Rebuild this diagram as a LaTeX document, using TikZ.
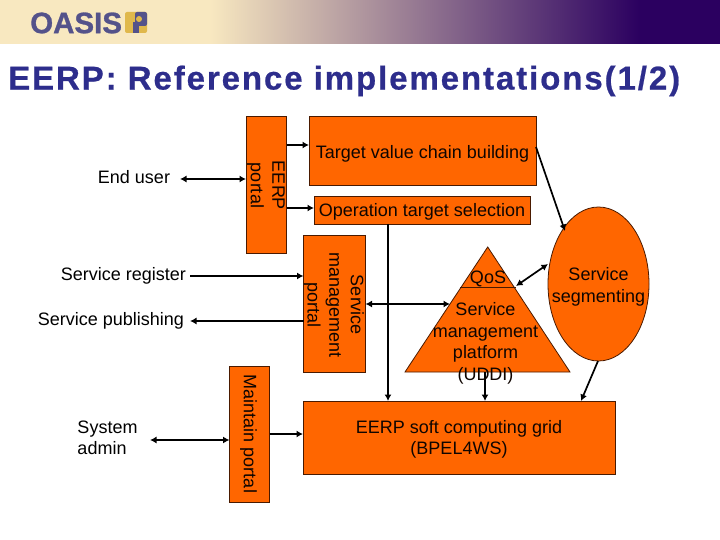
\documentclass[tikz,border=0pt]{standalone}
\usepackage{fontspec}
\setmainfont{Liberation Sans}
\usetikzlibrary{arrows.meta,shapes.geometric}
\definecolor{boxorange}{HTML}{FF6600}
\definecolor{edgedark}{HTML}{4A1A00}
\definecolor{cream}{HTML}{F8E8C0}
\definecolor{deep}{HTML}{2B0060}
\definecolor{titleblue}{HTML}{2D2D8C}
\definecolor{logoblue}{HTML}{54528A}
\definecolor{logogold}{HTML}{E0B84C}
\tikzset{
  x=1pt,y=-1pt,
  orbox/.style={draw=edgedark,fill=boxorange,line width=0.8pt},
  lbl/.style={font=\fontsize{18}{21}\selectfont,text=black,inner sep=0pt,align=center},
  inlbl/.style={font=\fontsize{18}{21.6}\selectfont,text=black!80!edgedark,inner sep=0pt,align=center},
  conn/.style={draw=black,line width=1.7pt,-{Latex[length=6.5pt,width=7pt]}},
  both/.style={draw=black,line width=1.7pt,{Latex[length=6.5pt,width=7pt]}-{Latex[length=6.5pt,width=7pt]}},
}
\begin{document}
\begin{tikzpicture}
\useasboundingbox (0,0) rectangle (720,540);
\fill[white] (0,0) rectangle (720,540);
% header band
\fill[cream] (0,0) rectangle (210,44);
\shade[left color=cream,right color=deep,shading=axis,shading angle=90] (210,0) rectangle (640,44);
\fill[deep] (640,0) rectangle (720,44);
\node[anchor=west,inner sep=0pt,font=\fontsize{29.5}{29.5}\selectfont\bfseries,text=logoblue] (logo) at (30,23) {\addfontfeature{FakeBold=1}OASIS};
\fill[logogold,rounded corners=2pt] (125,12) rectangle (147,33);
\fill[logoblue,rounded corners=2pt] (135,12) rectangle (147,26);
\fill[logogold] (139,19) circle [radius=3];
\fill[logoblue] (133,22) rectangle (139,33);
% title
\node[anchor=west,inner sep=0pt,font=\fontsize{33}{33}\selectfont\bfseries,text=titleblue] (title) at (8,81) {\addfontfeature{LetterSpace=5.8,FakeBold=0.6}EERP: Reference implementations(1/2)};
% shapes
\draw[orbox] (246,116) rectangle (286.5,253);
\draw[orbox] (309,116) rectangle (536,185);
\draw[orbox] (314,196) rectangle (530.5,224);
\draw[orbox] (303.5,235) rectangle (365.5,372.5);
\draw[orbox] (229.5,366) rectangle (269.5,502);
\draw[orbox] (303,401) rectangle (615,474);
\draw[orbox] (487.7,247) -- (570,372) -- (405,372) -- cycle;
\draw[edgedark,line width=0.8pt] (460,287) -- (516,287);
\draw[orbox] (598.5,284) ellipse [x radius=50.5,y radius=77];
% connector anchors
\coordinate (a1) at (180,179);   \coordinate (a2) at (246,179);
\coordinate (b1) at (286.5,145); \coordinate (b2) at (309,145);
\coordinate (c1) at (286.5,208); \coordinate (c2) at (314,208);
\coordinate (d1) at (190,276);   \coordinate (d2) at (303.5,276);
\coordinate (e1) at (303.5,321); \coordinate (e2) at (190,321);
\coordinate (f1) at (365.5,304); \coordinate (f2) at (450,304);
\coordinate (g1) at (388,224);   \coordinate (g2) at (388,401);
\coordinate (h1) at (536,147);   \coordinate (h2) at (565,231);
\coordinate (i1) at (516,286);   \coordinate (i2) at (548,264);
\coordinate (j1) at (485,372);   \coordinate (j2) at (485,401);
\coordinate (k1) at (598,361);   \coordinate (k2) at (581,401);
\coordinate (l1) at (269.5,434); \coordinate (l2) at (303,434);
\coordinate (m1) at (150,440);   \coordinate (m2) at (229.5,440);
\draw[both] (a1) -- (a2);
\draw[conn] (b1) -- (b2);
\draw[conn] (c1) -- (c2);
\draw[conn] (d1) -- (d2);
\draw[conn] (e1) -- (e2);
\draw[both] (f1) -- (f2);
\draw[conn] (g1) -- (g2);
\draw[conn] (h1) -- (h2);
\draw[both] (i1) -- (i2);
\draw[conn] (j1) -- (j2);
\draw[conn] (k1) -- (k2);
\draw[conn] (l1) -- (l2);
\draw[both] (m1) -- (m2);
% text
\node[lbl] (t1) at (134,177) {End user};
\node[lbl] (t2) at (123.5,275.5) {Service register};
\node[lbl] (t3) at (111,320.5) {Service publishing};
\node[lbl,align=left] (t4) at (107.5,437.5) {System\\admin};
\node[inlbl,rotate=-90] (t5) at (266,185.5) {EERP\\portal};
\node[inlbl,rotate=-90] (t6) at (334,305) {Service\\management\\portal};
\node[inlbl,rotate=-90] (t7) at (248.5,434) {Maintain portal};
\node[inlbl] (t8) at (422.5,153.5) {Target value chain building};
\node[inlbl] (t9) at (422,212) {Operation target selection};
\node[inlbl] (t10) at (488,279) {QoS};
\node[inlbl] (t11) at (485.5,343.5) {Service\\management\\platform\\(UDDI)};
\node[inlbl] (t12) at (598.5,287) {Service\\segmenting};
\node[inlbl] (t13) at (459,439.5) {EERP soft computing grid\\(BPEL4WS)};
\end{tikzpicture}
\end{document}
